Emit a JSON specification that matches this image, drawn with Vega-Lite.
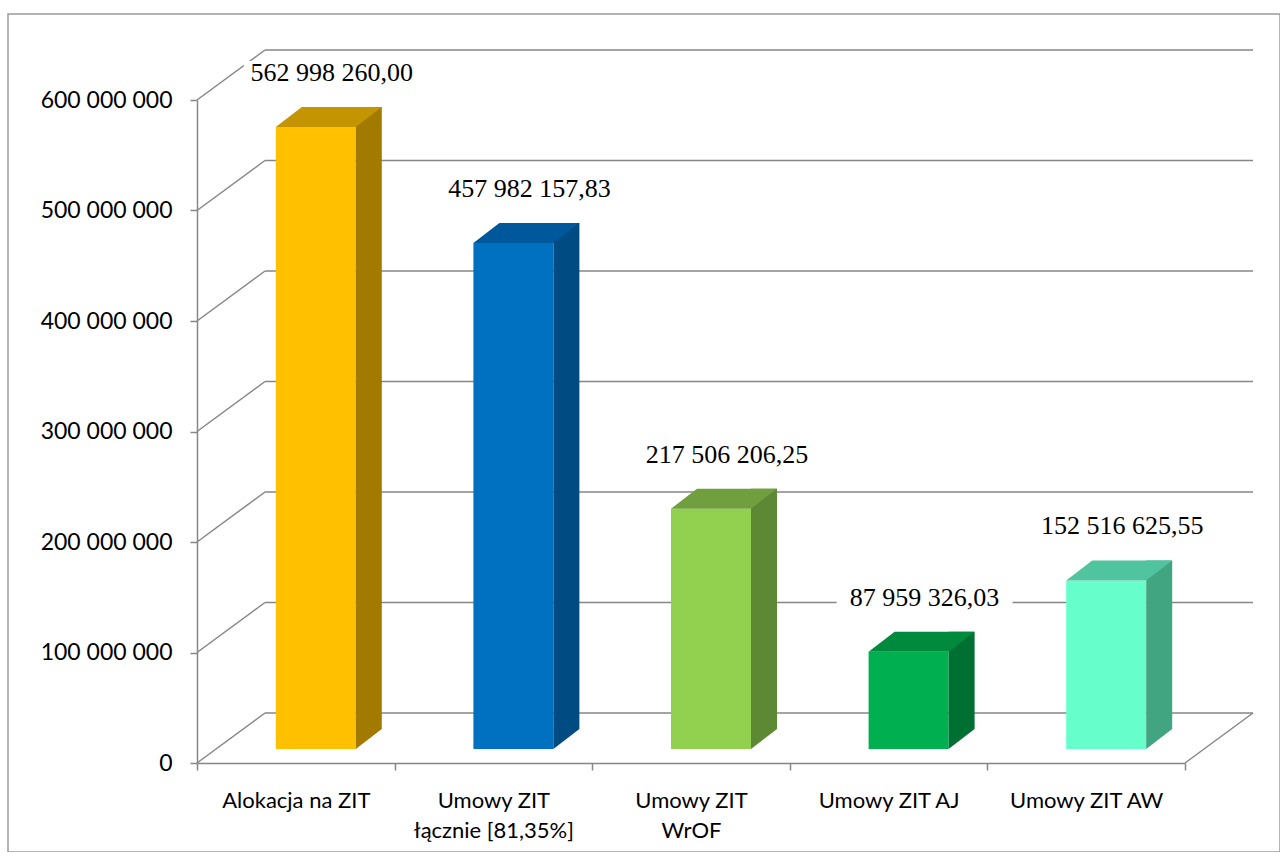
{
  "$schema": "https://vega.github.io/schema/vega-lite/v6.json",
  "autosize": {"type": "none"},
  "padding": {"left": 8, "top": 14, "right": 0, "bottom": 0},
  "width": 1272,
  "height": 838,
  "background": "#ffffff",
  "config": {
    "view": {"stroke": "#9a9a9a", "strokeWidth": 1.5},
    "locale": {"number": {"decimal": ",", "thousands": " ", "grouping": [3], "currency": ["", ""]}}
  },
  "datasets": {
    "wartosci": [
      {"kat": "Alokacja na ZIT", "wartosc": 562998260.00},
      {"kat": "Umowy ZIT\nłącznie [81,35%]", "wartosc": 457982157.83},
      {"kat": "Umowy ZIT\nWrOF", "wartosc": 217506206.25},
      {"kat": "Umowy ZIT AJ", "wartosc": 87959326.03},
      {"kat": "Umowy ZIT AW", "wartosc": 152516625.55}
    ],
    "podzialka": [
      {"v": 0}, {"v": 100000000}, {"v": 200000000}, {"v": 300000000},
      {"v": 400000000}, {"v": 500000000}, {"v": 600000000}
    ]
  },
  "layer": [
    {
      "data": {"name": "podzialka"},
      "mark": {"type": "point", "shape": "M-1,0L1,0", "size": 976144, "filled": false, "stroke": "#868686", "strokeWidth": 1.5, "opacity": 1, "xOffset": 68, "yOffset": -50},
      "encoding": {
        "x": {"datum": "Umowy ZIT\nWrOF", "type": "nominal", "title": null,
              "scale": {"type": "band", "domain": ["Alokacja na ZIT", "Umowy ZIT\nłącznie [81,35%]", "Umowy ZIT\nWrOF", "Umowy ZIT AJ", "Umowy ZIT AW"], "range": [189, 1177], "paddingInner": 0, "paddingOuter": 0}},
        "y": {"field": "v", "type": "quantitative", "title": null,
              "scale": {"domain": [0, 600000000], "range": [749, 86], "nice": false, "zero": true}}
      }
    },
    {
      "data": {"name": "podzialka"},
      "mark": {"type": "point", "shape": "M-1,0.735L1,-0.735", "size": 4624, "filled": false, "stroke": "#868686", "strokeWidth": 1.5, "opacity": 1, "xOffset": -64.8, "yOffset": -25},
      "encoding": {
        "x": {"datum": "Alokacja na ZIT", "type": "nominal", "title": null},
        "y": {"field": "v", "type": "quantitative", "title": null}
      }
    },
    {
      "data": {"name": "podzialka"},
      "transform": [{"filter": "datum.v == 0"}],
      "mark": {"type": "point", "shape": "M-1,0.735L1,-0.735", "size": 4624, "filled": false, "stroke": "#868686", "strokeWidth": 1.5, "opacity": 1, "xOffset": 132.8, "yOffset": -25},
      "encoding": {
        "x": {"datum": "Umowy ZIT AW", "type": "nominal", "title": null},
        "y": {"field": "v", "type": "quantitative", "title": null}
      }
    },
    {
      "data": {"name": "wartosci"},
      "mark": {"type": "bar", "size": 80, "xOffset": 20, "yOffset": -14, "y2Offset": -14},
      "encoding": {
        "x": {"field": "kat", "type": "nominal", "title": null,
              "scale": {"type": "band"},
              "axis": {"orient": "bottom", "offset": -89, "tickBand": "extent", "tickSize": 7, "tickWidth": 1.5, "tickColor": "#868686",
                       "domainColor": "#868686", "domainWidth": 1.5,
                       "labelFont": "Lato", "labelFontSize": 22, "labelColor": "#000000", "labelPadding": 20,
                       "labelAlign": "center", "labelBaseline": "top",
                       "labelLineHeight": 30, "labelAngle": 0, "labelLimit": 0, "labelOverlap": false,
                       "labelExpr": "split(datum.label, '\\n')"}},
        "y": {"field": "wartosc", "type": "quantitative", "title": null,
              "axis": {"orient": "left", "offset": -189, "values": [0, 100000000, 200000000, 300000000, 400000000, 500000000, 600000000],
                       "format": ",d", "grid": false, "tickSize": 7, "tickWidth": 1.5, "tickColor": "#868686",
                       "domainColor": "#868686", "domainWidth": 1.5,
                       "labelFont": "Lato", "labelFontSize": 23, "labelColor": "#000000", "labelPadding": 18, "labelOverlap": false}},
        "color": {"field": "kat", "type": "nominal", "legend": null,
                  "scale": {"domain": ["Alokacja na ZIT", "Umowy ZIT\nłącznie [81,35%]", "Umowy ZIT\nWrOF", "Umowy ZIT AJ", "Umowy ZIT AW"],
                            "range": ["#FFC000", "#0070C0", "#92D050", "#00B050", "#66FFCC"]}}
      }
    },
    {
      "data": {"name": "wartosci"},
      "mark": {"type": "bar", "size": 26, "xOffset": 73, "yOffset": -34, "y2Offset": -34},
      "encoding": {
        "x": {"field": "kat", "type": "nominal", "title": null},
        "y": {"field": "wartosc", "type": "quantitative", "title": null},
        "color": {"field": "kat", "type": "nominal", "legend": null,
                  "scale": {"domain": ["Alokacja na ZIT", "Umowy ZIT\nłącznie [81,35%]", "Umowy ZIT\nWrOF", "Umowy ZIT AJ", "Umowy ZIT AW"],
                            "range": ["#A27A00", "#004B82", "#5D8834", "#006F32", "#42A582"]}}
      }
    },
    {
      "data": {"name": "wartosci"},
      "mark": {"type": "point", "shape": "M-1,0.769L-1,-0.769L1,-0.769Z", "size": 676, "filled": true, "opacity": 1, "strokeWidth": 0, "xOffset": 73, "yOffset": -24},
      "encoding": {
        "x": {"field": "kat", "type": "nominal", "title": null},
        "y": {"datum": 0, "type": "quantitative", "title": null},
        "color": {"field": "kat", "type": "nominal", "legend": null,
                  "scale": {"domain": ["Alokacja na ZIT", "Umowy ZIT\nłącznie [81,35%]", "Umowy ZIT\nWrOF", "Umowy ZIT AJ", "Umowy ZIT AW"],
                            "range": ["#A27A00", "#004B82", "#5D8834", "#006F32", "#42A582"]}}
      }
    },
    {
      "data": {"name": "wartosci"},
      "mark": {"type": "point", "shape": "M-1,0.1887L0.5094,0.1887L1,-0.1887L-0.5094,-0.1887Z", "size": 11236, "filled": true, "opacity": 1, "strokeWidth": 0, "xOffset": 33, "yOffset": -24},
      "encoding": {
        "x": {"field": "kat", "type": "nominal", "title": null},
        "y": {"field": "wartosc", "type": "quantitative", "title": null},
        "color": {"field": "kat", "type": "nominal", "legend": null,
                  "scale": {"domain": ["Alokacja na ZIT", "Umowy ZIT\nłącznie [81,35%]", "Umowy ZIT\nWrOF", "Umowy ZIT AJ", "Umowy ZIT AW"],
                            "range": ["#C49500", "#00589C", "#6F9F3E", "#008A3E", "#50C49E"]}}
      }
    },
    {
      "data": {"name": "wartosci"},
      "mark": {"type": "point", "shape": "M-1,-0.136L1,-0.136L1,0.136L-1,0.136Z", "size": 30976, "filled": true, "fill": "#ffffff", "opacity": 1, "strokeWidth": 0, "xOffset": 36, "yOffset": -68},
      "encoding": {
        "x": {"field": "kat", "type": "nominal", "title": null},
        "y": {"field": "wartosc", "type": "quantitative", "title": null}
      }
    },
    {
      "data": {"name": "wartosci"},
      "mark": {"type": "text", "font": "Liberation Serif", "fontSize": 26, "color": "#000000", "baseline": "middle", "align": "center", "xOffset": 36, "yOffset": -68},
      "encoding": {
        "x": {"field": "kat", "type": "nominal", "title": null},
        "y": {"field": "wartosc", "type": "quantitative", "title": null},
        "text": {"field": "wartosc", "type": "quantitative", "format": ",.2f"}
      }
    }
  ],
  "resolve": {"scale": {"color": "independent"}}
}
